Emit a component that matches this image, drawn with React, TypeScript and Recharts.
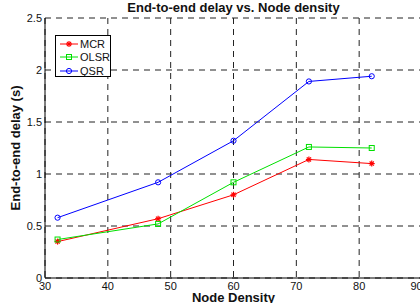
import { LineChart, Line, XAxis, YAxis, CartesianGrid, Label } from 'recharts';

const nodeDensity = [32, 48, 60, 72, 82];
const mcrDelay = [0.35, 0.57, 0.8, 1.14, 1.1];
const olsrDelay = [0.37, 0.52, 0.92, 1.26, 1.25];
const qsrDelay = [0.58, 0.92, 1.32, 1.89, 1.94];

const xTicks = [30, 40, 50, 60, 70, 80, 90];
const yTicks = [0, 0.5, 1, 1.5, 2, 2.5];

const series = [
  { key: 'MCR', name: 'MCR', color: '#ff0000', marker: 'star' },
  { key: 'OLSR', name: 'OLSR', color: '#00e000', marker: 'square' },
  { key: 'QSR', name: 'QSR', color: '#0000ff', marker: 'circle' }
];

const data = nodeDensity.map((x, i) => ({
  x,
  MCR: mcrDelay[i],
  OLSR: olsrDelay[i],
  QSR: qsrDelay[i]
}));

const FONT = '"Liberation Sans", Arial, Helvetica, sans-serif';

const Marker = ({ kind, color, cx, cy }: any) => {
  if (cx == null || cy == null) return null;
  if (kind === 'star') {
    const r = 3;
    const d = r * 0.7;
    return (
      <g stroke={color} strokeWidth={1.2}>
        <line x1={cx - r} y1={cy} x2={cx + r} y2={cy} />
        <line x1={cx} y1={cy - r} x2={cx} y2={cy + r} />
        <line x1={cx - d} y1={cy - d} x2={cx + d} y2={cy + d} />
        <line x1={cx - d} y1={cy + d} x2={cx + d} y2={cy - d} />
      </g>
    );
  }
  if (kind === 'square') {
    return <rect x={cx - 2.5} y={cy - 2.5} width={5} height={5} fill="none" stroke={color} strokeWidth={1} />;
  }
  return <circle cx={cx} cy={cy} r={2.6} fill="none" stroke={color} strokeWidth={1} />;
};

// legend box sits over the plot, like matlab's 'NorthWest' legend
const LegendBox = () => (
  <div
    style={{
      position: 'absolute',
      left: 55,
      top: 35,
      width: 56,
      height: 42,
      boxSizing: 'border-box',
      border: '1px solid #000',
      background: '#fff',
      paddingTop: 1,
      fontFamily: FONT,
      fontSize: 11,
      color: '#111'
    }}
  >
    {series.map((s) => (
      <div key={s.key} style={{ display: 'flex', alignItems: 'center', height: 13.5 }}>
        <svg width={22} height={10} style={{ marginLeft: 2 }}>
          <line x1={2} y1={5} x2={20} y2={5} stroke={s.color} strokeWidth={1} />
          <Marker kind={s.marker} color={s.color} cx={11} cy={5} />
        </svg>
        <span>{s.name}</span>
      </div>
    ))}
  </div>
);

const App = () => {
  return (
    <div style={{ position: 'absolute', left: 0, top: 0, width: 420, height: 303, overflow: 'hidden', background: '#fff' }}>
      <div
        style={{
          position: 'absolute',
          left: 45,
          width: 377,
          top: 0,
          textAlign: 'center',
          fontFamily: FONT,
          fontWeight: 'bold',
          fontSize: 13,
          lineHeight: '15px',
          color: '#111'
        }}
      >
        End-to-end delay vs. Node density
      </div>
      <LineChart width={422} height={303} data={data} margin={{ top: 18, right: 0, bottom: 0, left: 0 }}>
        <CartesianGrid stroke="#222" strokeDasharray="6 5" horizontalValues={yTicks} verticalValues={xTicks} />
        <XAxis
          dataKey="x"
          type="number"
          domain={[30, 90]}
          ticks={xTicks}
          height={25}
          tickLine={false}
          tickSize={0}
          tickMargin={4}
          axisLine={{ stroke: '#000', strokeWidth: 1 }}
          tick={{ fill: '#111', fontSize: 11, fontFamily: FONT }}
          allowDataOverflow
        >
          <Label
            value="Node Density"
            position="insideBottom"
            offset={1}
            style={{ fontFamily: FONT, fontWeight: 'bold', fontSize: 13, fill: '#111' }}
          />
        </XAxis>
        <YAxis
          type="number"
          domain={[0, 2.5]}
          ticks={yTicks}
          width={45}
          tickLine={false}
          tickSize={0}
          tickMargin={3}
          axisLine={{ stroke: '#000', strokeWidth: 1 }}
          tick={{ fill: '#111', fontSize: 11, fontFamily: FONT }}
        >
          <Label
            value="End-to-end delay (s)"
            angle={-90}
            position="insideLeft"
            offset={15}
            style={{ textAnchor: 'middle', fontFamily: FONT, fontWeight: 'bold', fontSize: 13, fill: '#111' }}
          />
        </YAxis>
        {series.map((s) => (
          <Line
            key={s.key}
            type="linear"
            dataKey={s.key}
            name={s.name}
            stroke={s.color}
            strokeWidth={1}
            isAnimationActive={false}
            dot={(p: any) => <Marker key={`${s.key}-${p.index}`} kind={s.marker} color={s.color} cx={p.cx} cy={p.cy} />}
            activeDot={false}
          />
        ))}
      </LineChart>
      <LegendBox />
    </div>
  );
};

export default App;
